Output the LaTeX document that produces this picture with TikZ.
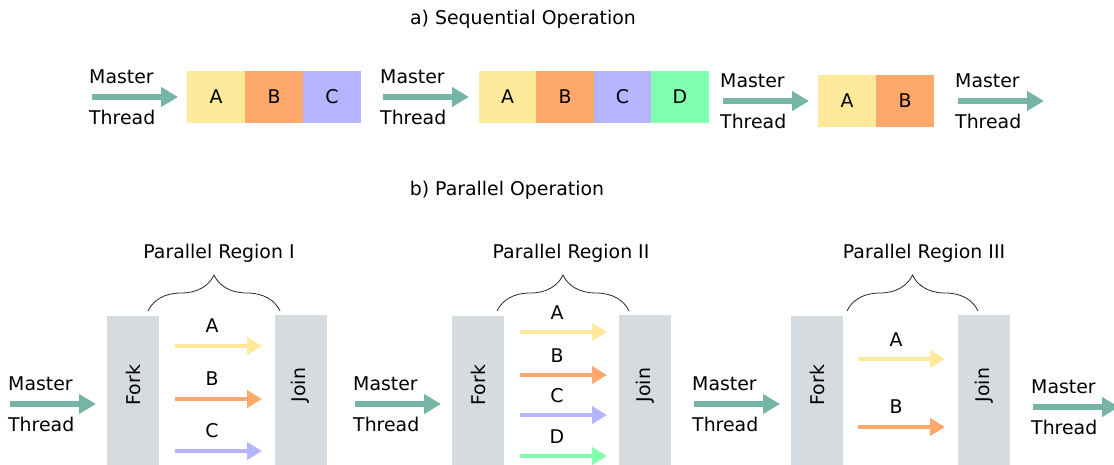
\documentclass[tikz,border=0pt]{standalone}
\usepackage{fontspec}
\setmainfont{DejaVu Sans}
\usetikzlibrary{arrows.meta,decorations.pathreplacing}
\definecolor{teal}{RGB}{118,180,165}
\definecolor{forkgray}{RGB}{214,219,223}
\definecolor{cA}{RGB}{255,233,155}
\definecolor{cB}{RGB}{255,168,108}
\definecolor{cC}{RGB}{180,180,255}
\definecolor{cD}{RGB}{128,255,176}
\tikzset{
  txt/.style={inner sep=0pt, font=\fontsize{18.9}{22}\selectfont},
  mtext/.style={txt, anchor=west},
  marrow/.style={draw=teal, line width=6pt, -{Triangle[length=17pt,width=19pt]}},
  tarrow/.style={line width=4.5pt, -{Triangle[length=15pt,width=17pt]}},
  seqbox/.style={minimum width=58pt, minimum height=52pt, inner sep=0pt, txt},
  fjbox/.style={fill=forkgray, minimum width=52pt, minimum height=160pt, inner sep=0pt, anchor=north},
  bracestyle/.style={draw=black!85, line width=0.8pt, decorate, decoration={brace, amplitude=36pt}}
}
\begin{document}
\begin{tikzpicture}[x=1pt,y=-1pt]
\useasboundingbox (0,0) rectangle (1114,464);
\clip (0,0) rectangle (1114,464);

% ---------- titles
\node[txt] (ta) at (523,19) {a) Sequential Operation};
\node[txt] (tb) at (507,190) {b) Parallel Operation};

% ---------- row a: master thread labels and arrows
\foreach \i/\x/\y in {1/89/97, 2/380/97, 3/720/101, 4/955/101} {
  \node[mtext] (ma\i) at (\x,\y-20) {Master};
  \node[mtext] (ta\i) at (\x,\y+20) {Thread};
  \coordinate (as\i) at (\x+3,\y);
  \coordinate (ae\i) at (\x+89,\y);
  \draw[marrow] (as\i) -- (ae\i);
}

% ---------- row a: boxes
\node[seqbox, fill=cA] (s1A) at (216,97) {A};
\node[seqbox, fill=cB] (s1B) at (274,97) {B};
\node[seqbox, fill=cC] (s1C) at (332,97) {C};

\node[seqbox, fill=cA] (s2A) at (507.5,97) {A};
\node[seqbox, fill=cB] (s2B) at (565,97) {B};
\node[seqbox, fill=cC] (s2C) at (622.5,97) {C};
\node[seqbox, fill=cD] (s2D) at (680,97) {D};

\node[seqbox, fill=cA] (s3A) at (847,101) {A};
\node[seqbox, fill=cB] (s3B) at (905,101) {B};

% ---------- row b: master thread labels and arrows
\foreach \i/\x/\y in {1/8/404, 2/353/404, 3/692/404, 4/1031/407} {
  \node[mtext] (mb\i) at (\x,\y-20) {Master};
  \node[mtext] (tb\i) at (\x,\y+20) {Thread};
  \coordinate (bs\i) at (\x+2,\y);
  \coordinate (be\i) at (\x+88,\y);
  \draw[marrow] (bs\i) -- (be\i);
}

% ---------- fork / join boxes
\node[fjbox] (fork1) at (133,316) {};
\node[fjbox] (join1) at (300.5,315) {};
\node[fjbox] (fork2) at (478,316) {};
\node[fjbox] (join2) at (645,315) {};
\node[fjbox] (fork3) at (817,316) {};
\node[fjbox] (join3) at (984,315) {};
\foreach \n in {1,2,3} {
  \node[txt, rotate=90] (fl\n) at ([yshift=-69pt]fork\n.north) {Fork};
  \node[txt, rotate=90] (jl\n) at ([yshift=-70pt]join\n.north) {Join};
}

% ---------- braces and region labels
\coordinate (b1l) at (148,311); \coordinate (b1r) at (280,311);
\coordinate (b2l) at (497,311); \coordinate (b2r) at (629,311);
\coordinate (b3l) at (847,311); \coordinate (b3r) at (978,311);
\draw[bracestyle] (b1l) -- (b1r);
\draw[bracestyle] (b2l) -- (b2r);
\draw[bracestyle] (b3l) -- (b3r);
\node[txt] (r1) at (219,253) {Parallel Region I};
\node[txt] (r2) at (571,253) {Parallel Region II};
\node[txt] (r3) at (924,253) {Parallel Region III};

% ---------- thread arrows inside regions
\foreach \nm/\c/\x/\y in {1A/cA/175/346, 1B/cB/175/399, 1C/cC/175/451,
                          2A/cA/520/332, 2B/cB/520/375, 2C/cC/520/415, 2D/cD/520/456,
                          3A/cA/858/359, 3B/cB/858/427} {
  \coordinate (p\nm s) at (\x,\y);
  \coordinate (p\nm e) at (\x+87,\y);
  \draw[tarrow, draw=\c, fill=\c] (p\nm s) -- (p\nm e);
}
\node[txt] (l1A) at (212,326) {A};
\node[txt] (l1B) at (212,379) {B};
\node[txt] (l1C) at (212,431) {C};
\node[txt] (l2A) at (557,313) {A};
\node[txt] (l2B) at (557,356) {B};
\node[txt] (l2C) at (557,396) {C};
\node[txt] (l2D) at (557,437) {D};
\node[txt] (l3A) at (896,340) {A};
\node[txt] (l3B) at (896,407) {B};
\end{tikzpicture}
\end{document}
